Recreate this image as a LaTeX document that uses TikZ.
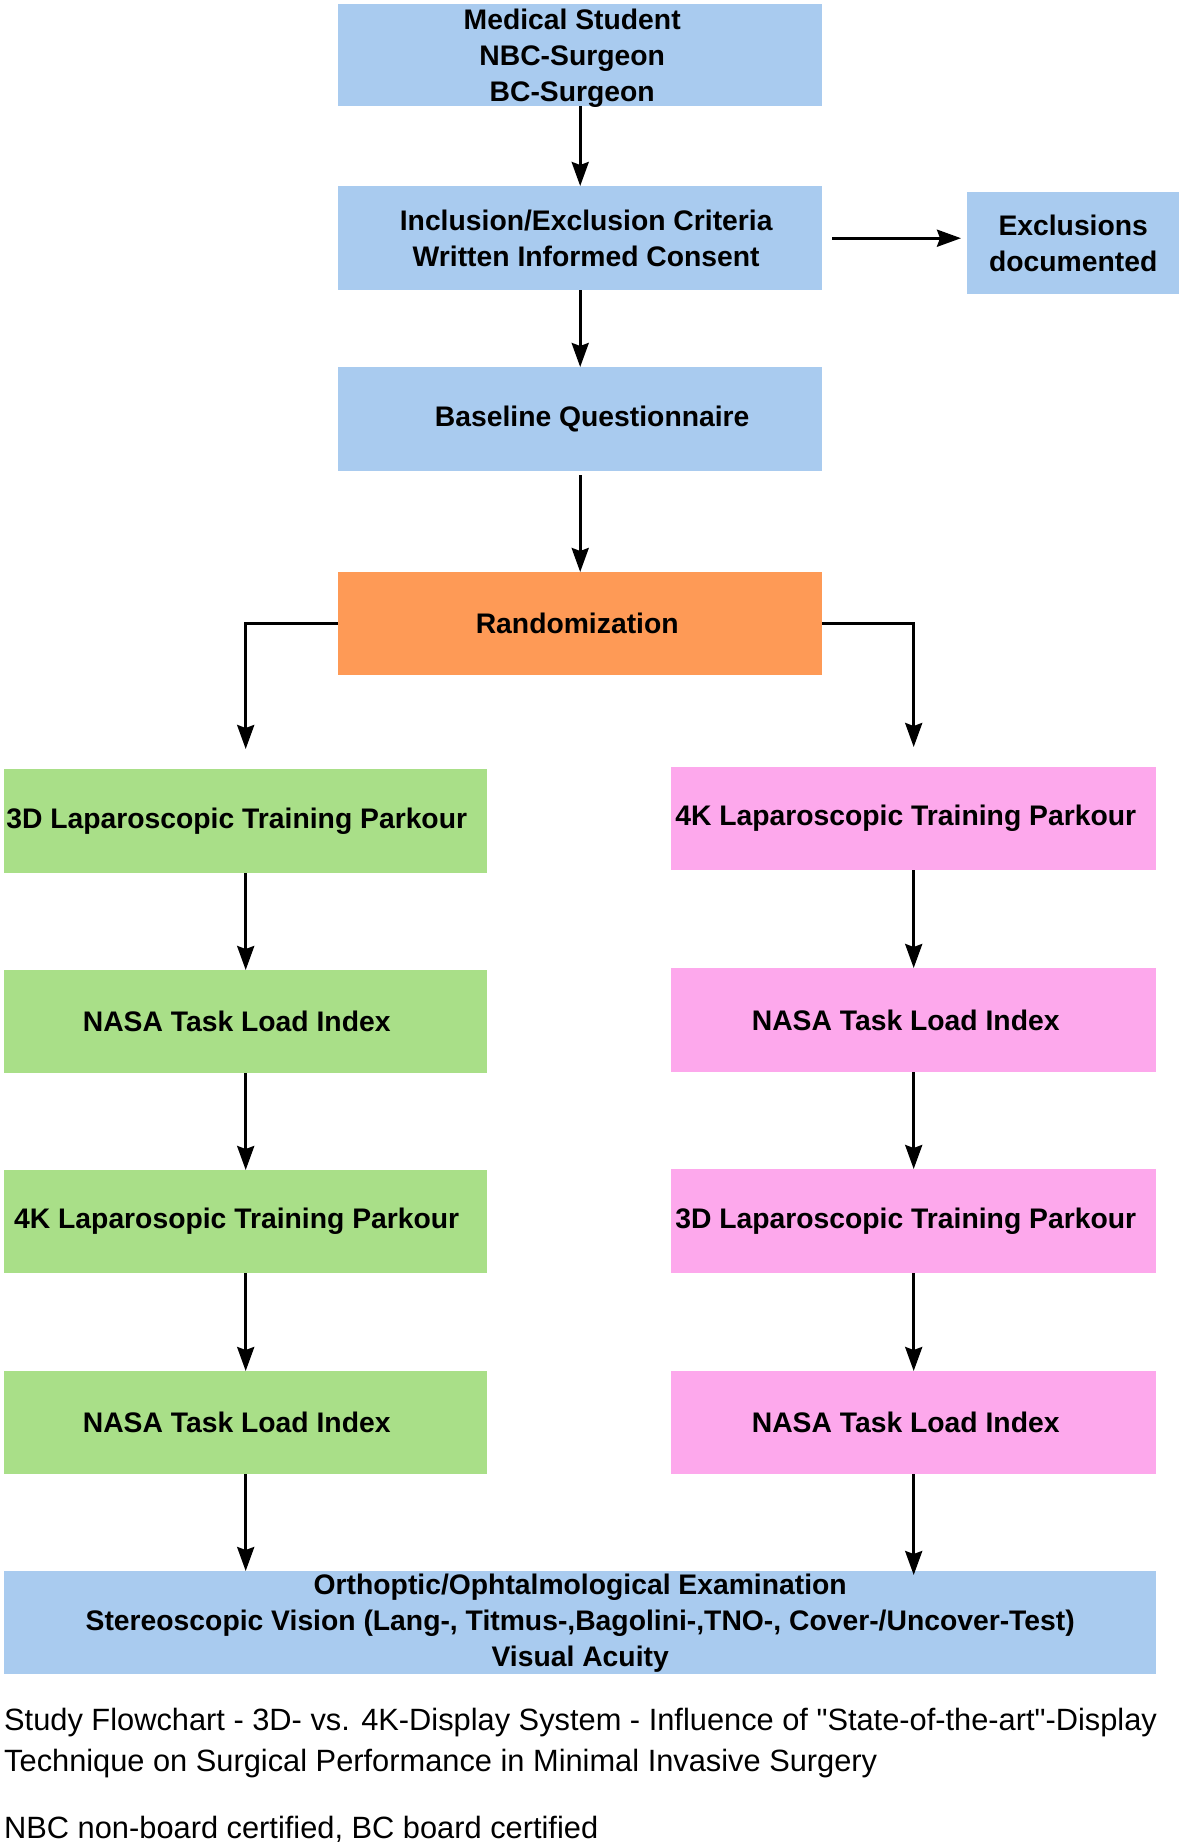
\documentclass[tikz,border=0pt]{standalone}
\usepackage{fontspec}
\setmainfont{Liberation Sans}[Ligatures=TeXOff]
\usetikzlibrary{arrows.meta,calc}
\definecolor{bxblue}{HTML}{A9CBEF}
\definecolor{bxorange}{HTML}{FE9A56}
\definecolor{bxgreen}{HTML}{A9DF88}
\definecolor{bxpink}{HTML}{FDA8EC}
\newcommand\shx[2]{\hbox{\kern#1\relax#2\kern-#1\relax}}
\tikzset{
  box/.style={rectangle, anchor=north west, inner sep=0pt, align=center,
    font=\bfseries\fontsize{28.3}{36}\selectfont},
  arr/.style={line width=3pt, -{Stealth[length=24pt,width=17pt,inset=3pt]}},
  capt/.style={anchor=base west, inner sep=0pt, font=\fontsize{30.8}{36}\selectfont}
}
\begin{document}
\begin{tikzpicture}[x=1pt,y=-1pt]
\useasboundingbox[fill=white] (0,0) rectangle (1181,1847);
% top column
\node[box, fill=bxblue, minimum width=484pt, minimum height=102pt, text depth=0pt] (b1) at (338,4)
  {\shx{-8pt}{Medical Student}\\\shx{-8pt}{NBC-Surgeon}\\\shx{-8pt}{BC-Surgeon}};
\node[box, fill=bxblue, minimum width=484pt, minimum height=104pt] (b2) at (338,186)
  {\shx{6pt}{Inclusion/Exclusion Criteria}\\\shx{6pt}{Written Informed Consent}};
\node[box, fill=bxblue, minimum width=212pt, minimum height=102pt] (ex) at (967,192)
  {Exclusions\\documented};
\node[box, fill=bxblue, minimum width=484pt, minimum height=104pt] (b3) at (338,367)
  {\shx{12pt}{Baseline Questionnaire}};
\node[box, fill=bxorange, minimum width=484pt, minimum height=103pt] (r) at (338,572)
  {\shx{-3pt}{Randomization}};
% left column
\node[box, fill=bxgreen, minimum width=483pt, minimum height=104pt] (g1) at (4,769)
  {\shx{-9pt}{3D Laparoscopic Training Parkour}};
\node[box, fill=bxgreen, minimum width=483pt, minimum height=103pt] (g2) at (4,970)
  {\shx{-9pt}{NASA Task Load Index}};
\node[box, fill=bxgreen, minimum width=483pt, minimum height=103pt] (g3) at (4,1170)
  {\shx{-9pt}{4K Laparosopic Training Parkour}};
\node[box, fill=bxgreen, minimum width=483pt, minimum height=103pt] (g4) at (4,1371)
  {\shx{-9pt}{NASA Task Load Index}};
% right column
\node[box, fill=bxpink, minimum width=485pt, minimum height=103pt] (p1) at (671,767)
  {\shx{-8pt}{4K Laparoscopic Training Parkour}};
\node[box, fill=bxpink, minimum width=485pt, minimum height=104pt] (p2) at (671,968)
  {\shx{-8pt}{NASA Task Load Index}};
\node[box, fill=bxpink, minimum width=485pt, minimum height=104pt] (p3) at (671,1169)
  {\shx{-8pt}{3D Laparoscopic Training Parkour}};
\node[box, fill=bxpink, minimum width=485pt, minimum height=103pt] (p4) at (671,1371)
  {\shx{-8pt}{NASA Task Load Index}};
% bottom
\node[box, fill=bxblue, minimum width=1152pt, minimum height=103pt] (bot) at (4,1571)
  {Orthoptic/Ophtalmological Examination\\Stereoscopic Vision (Lang-, Titmus-,Bagolini-,TNO-, Cover-/Uncover-Test)\\Visual Acuity};
% connectors
\draw[arr] (b1.south) -- (b2.north);
\draw[arr, shorten <=10pt, shorten >=6pt] (b2.east) -- (b2.east -| ex.west);
\draw[arr] (b2.south) -- (b3.north);
\draw[arr, shorten <=4pt] (b3.south) -- (r.north);
\draw[arr] (r.west) -| ([yshift=20pt]g1.north);
\draw[arr] (r.east) -| ([yshift=20pt]p1.north);
\draw[arr] (g1.south) -- (g2.north);
\draw[arr] (g2.south) -- (g3.north);
\draw[arr] (g3.south) -- (g4.north);
\draw[arr] (g4.south) -- (g4.south |- bot.north);
\draw[arr] (p1.south) -- (p2.north);
\draw[arr] (p2.south) -- (p3.north);
\draw[arr] (p3.south) -- (p4.north);
\draw[arr, shorten >=-4pt] (p4.south) -- (p4.south |- bot.north);
% caption
\node[capt] (c1) at (4,1730) {Study Flowchart - 3D- vs. 4K-Display System - Influence of "State-of-the-art"-Display};
\node[capt] (c2) at (4,1771) {Technique on Surgical Performance in Minimal Invasive Surgery};
\node[capt] (c3) at (4,1838) {NBC non-board certified, BC board certified};
\end{tikzpicture}
\end{document}
